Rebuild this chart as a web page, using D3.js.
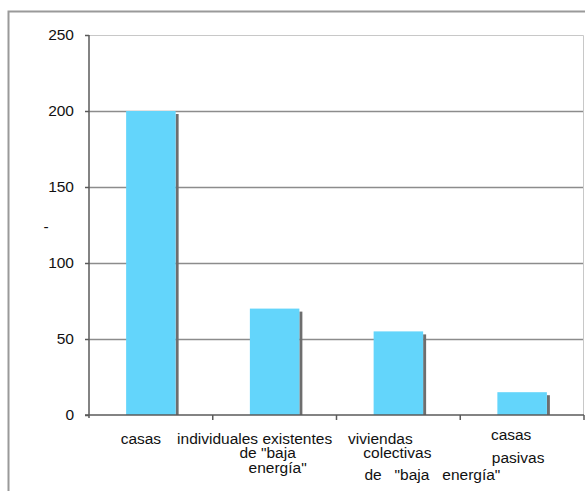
<!DOCTYPE html>
<html>
<head>
<meta charset="utf-8">
<script src="https://cdn.jsdelivr.net/npm/d3@7"></script>
<style>
  html, body { margin: 0; padding: 0; background: #fff; }
  svg text { font-family: "Liberation Sans", Arial, sans-serif; fill: #111; }
</style>
</head>
<body>
<svg id="chart" width="585" height="491"></svg>
<script>
// Energy demand by dwelling type
const categories = ["existentes", "bajaEnergia", "colectivas", "pasivas"];
const values = [200, 70, 55, 15];
const yTicks = [0, 50, 100, 150, 200, 250];

// Category label fragments: [text, offset from band centre, baseline]
const labelLines = [
  [["casas", -10, 444]],
  [["individuales existentes", -20, 444], ["de \"baja", -7, 458], ["energía\"", 3, 473]],
  [["viviendas", -18, 444], ["colectivas", -1, 458], ["de   \"baja   energía\"", 34, 480]],
  [["casas", -11, 440], ["pasivas", -4, 463]]
];

const svg = d3.select("#chart");
const m = { left: 89, right: 1, top: 35, bottom: 76 };
const W = 585, H = 491;

// outer frame (top and left edges)
svg.append("path")
  .attr("d", `M8.5,491 V11.5 H585`)
  .attr("fill", "none").attr("stroke", "#9a9a9a").attr("stroke-width", 2);

const x = d3.scaleBand().domain(categories)
  .range([m.left, W - m.right]).paddingInner(0.6).paddingOuter(0.3);
const xb = d3.scaleBand().domain(categories).range([m.left, W - m.right]);
const y = d3.scaleLinear().domain([0, 250]).range([H - m.bottom, m.top]);

// plot area frame (top and right)
svg.append("path")
  .attr("d", `M${m.left},${m.top + 0.5} H${W - m.right - 0.5} V${H - m.bottom}`)
  .attr("fill", "none").attr("stroke", "#c8c8c8").attr("stroke-width", 1);

// gridlines
svg.append("g").selectAll("line")
  .data(yTicks.filter(d => d > 0 && d < 250)).join("line")
  .attr("x1", m.left).attr("x2", W - m.right - 1)
  .attr("y1", d => Math.round(y(d)) + 0.5).attr("y2", d => Math.round(y(d)) + 0.5)
  .attr("stroke", "#8c8c8c").attr("stroke-width", 1.5);

// bar shadows
svg.append("g").selectAll("rect")
  .data(values).join("rect")
  .attr("x", (d, i) => x(categories[i]) + x.bandwidth())
  .attr("y", d => y(d) + 3)
  .attr("width", 3)
  .attr("height", d => y(0) - y(d) - 3)
  .attr("fill", "#6e6e6e");

// bars
svg.append("g").selectAll("rect")
  .data(values).join("rect")
  .attr("x", (d, i) => x(categories[i]))
  .attr("y", d => y(d))
  .attr("width", x.bandwidth())
  .attr("height", d => y(0) - y(d))
  .attr("fill", "#63d5fb");

// y axis
const yAxis = d3.axisLeft(y).tickValues(yTicks).tickSize(4).tickPadding(11);
const gy = svg.append("g").attr("transform", `translate(${m.left},0)`).call(yAxis);
gy.select(".domain").attr("stroke", "#5a5a5a").attr("stroke-width", 1.5)
  .attr("d", `M0,${m.top}V${y(0) + 3}`);
gy.selectAll(".tick line").attr("stroke", "#5a5a5a").attr("stroke-width", 1.5);
gy.selectAll(".tick text").attr("font-size", 15.5).attr("fill", "#111")
  .style("font-family", "Liberation Sans, Arial, sans-serif");

// x axis with ticks at category boundaries
const gx = svg.append("g").attr("transform", `translate(0,${y(0)})`);
gx.append("line").attr("x1", m.left - 4).attr("x2", W - m.right)
  .attr("stroke", "#5a5a5a").attr("stroke-width", 1.5);
gx.selectAll("line.tk").data(categories).join("line").attr("class", "tk")
  .attr("x1", d => xb(d) + xb.bandwidth()).attr("x2", d => xb(d) + xb.bandwidth())
  .attr("y1", 0).attr("y2", 5)
  .attr("stroke", "#5a5a5a").attr("stroke-width", 1.5);

// category labels
categories.forEach((c, i) => {
  const cx = xb(c) + xb.bandwidth() / 2;
  labelLines[i].forEach(([t, dx, by]) => {
    svg.append("text").attr("x", cx + dx).attr("y", by)
      .attr("text-anchor", "middle").attr("font-size", 15.5)
      .style("white-space", "pre").attr("xml:space", "preserve")
      .text(t);
  });
});

// axis title mark
svg.append("text").attr("x", 46).attr("y", 232).attr("text-anchor", "middle")
  .attr("font-size", 15.5).text("-");
</script>
</body>
</html>
